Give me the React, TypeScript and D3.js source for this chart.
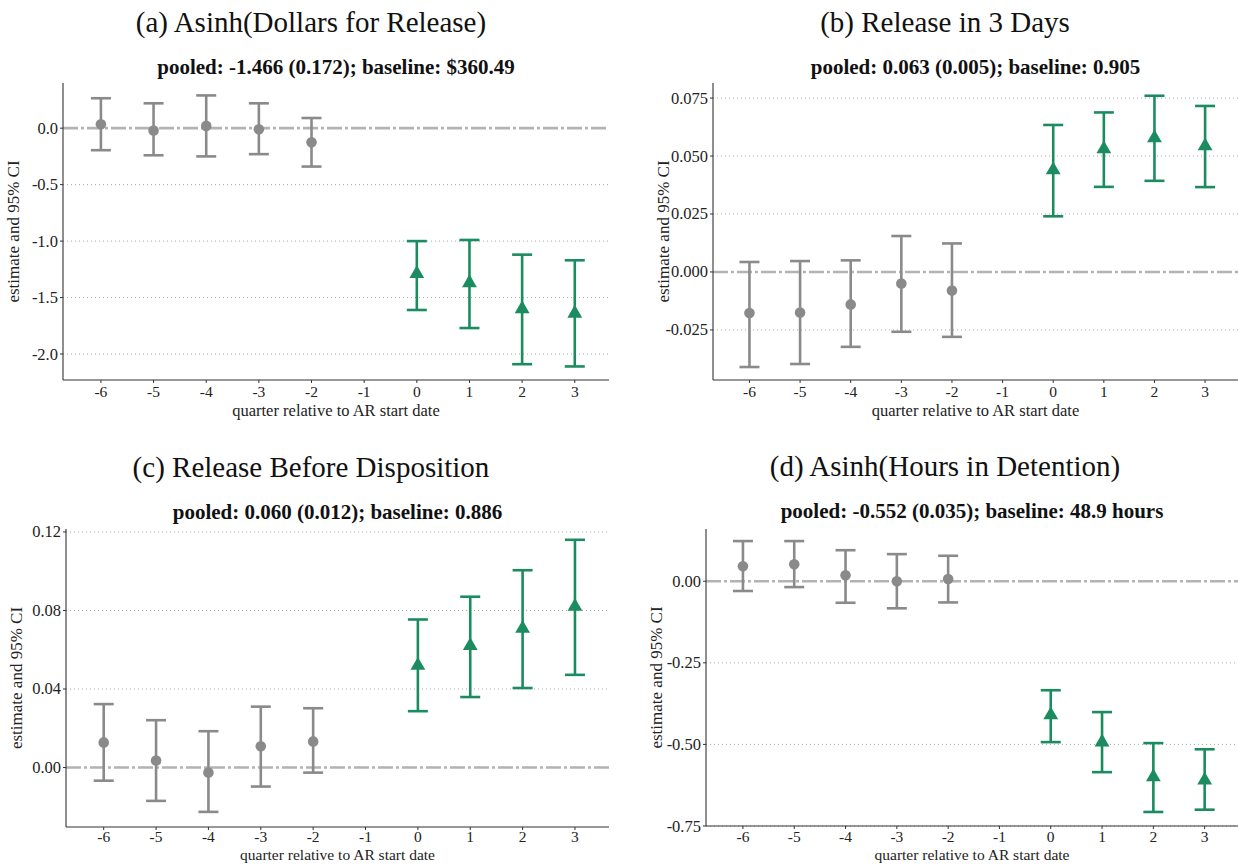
import React from "react";
import * as d3 from "d3";

// quarters relative to AR start (-1 is the omitted reference quarter)
const quarters = [-6, -5, -4, -3, -2, 0, 1, 2, 3];
const tickQuarters = [-6, -5, -4, -3, -2, -1, 0, 1, 2, 3];

// (a) asinh dollars for release
const dollarsEst = [0.035, -0.02, 0.02, -0.01, -0.125, -1.29, -1.37, -1.6, -1.64];
const dollarsLo = [-0.195, -0.24, -0.25, -0.23, -0.34, -1.61, -1.77, -2.09, -2.11];
const dollarsHi = [0.265, 0.22, 0.29, 0.22, 0.09, -1.0, -0.99, -1.12, -1.17];
const dollarsTicks = [0, -0.5, -1, -1.5, -2];

// (b) release in 3 days
const days3Est = [-0.0177, -0.0175, -0.014, -0.005, -0.008, 0.044, 0.053, 0.0578, 0.0543];
const days3Lo = [-0.041, -0.0397, -0.0323, -0.0258, -0.028, 0.024, 0.0367, 0.0393, 0.0366];
const days3Hi = [0.0043, 0.0047, 0.005, 0.0155, 0.0123, 0.0634, 0.0688, 0.076, 0.0716];
const days3Ticks = [0.075, 0.05, 0.025, 0, -0.025];

// (c) release before disposition
const dispoEst = [0.0128, 0.0036, -0.0026, 0.0108, 0.0133, 0.052, 0.062, 0.0708, 0.082];
const dispoLo = [-0.0067, -0.017, -0.0226, -0.0097, -0.0026, 0.0287, 0.0359, 0.0405, 0.0472];
const dispoHi = [0.0323, 0.0241, 0.0185, 0.031, 0.0302, 0.0754, 0.087, 0.1005, 0.116];
const dispoTicks = [0.12, 0.08, 0.04, 0];

// (d) asinh hours in detention
const hoursEst = [0.046, 0.052, 0.018, 0.0, 0.007, -0.41, -0.493, -0.6, -0.61];
const hoursLo = [-0.03, -0.018, -0.066, -0.083, -0.065, -0.493, -0.585, -0.707, -0.7];
const hoursHi = [0.123, 0.123, 0.095, 0.083, 0.078, -0.334, -0.401, -0.496, -0.515];
const hoursTicks = [0, -0.25, -0.5, -0.75];

const GRAY = "#8a8a8a";
const GREEN = "#1b8c5f";
const FONT = "Liberation Serif";

type PanelProps = {
  title: string;
  subtitle: string;
  est: number[];
  lo: number[];
  hi: number[];
  yTicks: number[];
  yDomain: [number, number];
  fmt: (v: number) => string;
  left: number;
  right: number;
  top: number;
  bottom: number;
  titleX: number;
  titleY: number;
  tickGap: number;
  xLabelGap: number;
  xLabelSize: number;
};

function Panel(p: PanelProps) {
  const x = d3.scaleLinear().domain([-6.72, 3.65]).range([p.left, p.right]);
  const y = d3.scaleLinear().domain(p.yDomain).range([p.bottom, p.top]);
  const midX = (p.left + p.right) / 2;
  const midY = (p.top + p.bottom) / 2;
  const capW = 10;
  const tri = d3.symbol().type(d3.symbolTriangle).size(95)();

  return (
    <g>
      <text x={p.titleX} y={p.titleY} textAnchor="middle" fontSize={29} fontFamily={FONT} fill="#111">
        {p.title}
      </text>
      <text x={midX} y={p.titleY + 42} textAnchor="middle" fontSize={21} fontWeight="bold" fontFamily={FONT} fill="#111">
        {p.subtitle}
      </text>

      {/* dotted grid lines */}
      {p.yTicks.filter((t) => t !== 0).map((t) => (
        <line key={"g" + t} x1={p.left} x2={p.right} y1={y(t)} y2={y(t)}
          stroke="#a8a8a8" strokeWidth={1} strokeDasharray="1,3" />
      ))}
      {/* zero reference */}
      <line x1={p.left} x2={p.right} y1={y(0)} y2={y(0)}
        stroke="#b3b3b3" strokeWidth={2.6} strokeDasharray="15,3,3,3" />

      {/* error bars */}
      {quarters.map((q, i) => {
        const c = q < 0 ? GRAY : GREEN;
        const cx = x(q);
        return (
          <g key={"e" + q} stroke={c} strokeWidth={2.6}>
            <line x1={cx} x2={cx} y1={y(p.lo[i])} y2={y(p.hi[i])} />
            <line x1={cx - capW} x2={cx + capW} y1={y(p.lo[i])} y2={y(p.lo[i])} />
            <line x1={cx - capW} x2={cx + capW} y1={y(p.hi[i])} y2={y(p.hi[i])} />
          </g>
        );
      })}
      {quarters.map((q, i) =>
        q < 0 ? (
          <circle key={"p" + q} cx={x(q)} cy={y(p.est[i])} r={5.3} fill={GRAY} />
        ) : (
          <path key={"p" + q} d={tri as string} transform={`translate(${x(q)},${y(p.est[i])})`} fill={GREEN} />
        )
      )}

      {/* axes */}
      <line x1={p.left} x2={p.left} y1={p.top} y2={p.bottom} stroke="#333" strokeWidth={1.1} />
      <line x1={p.left} x2={p.right} y1={p.bottom} y2={p.bottom} stroke="#333" strokeWidth={1.1} />
      {p.yTicks.map((t) => (
        <g key={"yt" + t}>
          <line x1={p.left - 3} x2={p.left} y1={y(t)} y2={y(t)} stroke="#333" />
          <text x={p.left - 5} y={y(t) + 5.5} textAnchor="end" fontSize={16.5} fontFamily={FONT} fill="#222">
            {p.fmt(t)}
          </text>
        </g>
      ))}
      {tickQuarters.map((q) => (
        <g key={"xt" + q}>
          <line x1={x(q)} x2={x(q)} y1={p.bottom} y2={p.bottom + 3} stroke="#333" />
          <text x={x(q)} y={p.bottom + p.tickGap} textAnchor="middle" fontSize={15.5} fontFamily={FONT} fill="#222">
            {q}
          </text>
        </g>
      ))}
      <text x={midX} y={p.bottom + p.xLabelGap} textAnchor="middle" fontSize={p.xLabelSize} fontFamily={FONT} fill="#222">
        quarter relative to AR start date
      </text>
      <text transform={`translate(${p.left - 44},${midY}) rotate(-90)`} textAnchor="middle" fontSize={17} fontFamily={FONT} fill="#222">
        estimate and 95% CI
      </text>
    </g>
  );
}

export default function App() {
  const f1 = d3.format(".1f");
  const f3 = d3.format(".3f");
  const f2 = d3.format(".2f");
  const minus = (s: string) => s.replace("−", "-");
  return (
    <svg width={1238} height={864} style={{ position: "absolute", left: 0, top: 0, background: "#fff" }}>
      <rect width={1238} height={864} fill="#fff" />
      <Panel title="(a) Asinh(Dollars for Release)" subtitle="pooled: -1.466 (0.172); baseline: $360.49"
        est={dollarsEst} lo={dollarsLo} hi={dollarsHi} yTicks={dollarsTicks} yDomain={[-2.23, 0.4]}
        fmt={(v) => minus(f1(v))} left={63} right={609} top={83} bottom={380} titleX={311} titleY={32}
        tickGap={17} xLabelGap={36} xLabelSize={16.5} />
      <Panel title="(b) Release in 3 Days" subtitle="pooled: 0.063 (0.005); baseline: 0.905"
        est={days3Est} lo={days3Lo} hi={days3Hi} yTicks={days3Ticks} yDomain={[-0.0466, 0.0815]}
        fmt={(v) => minus(f3(v))} left={713} right={1238} top={83} bottom={380} titleX={945} titleY={32}
        tickGap={17} xLabelGap={36} xLabelSize={16.5} />
      <Panel title="(c) Release Before Disposition" subtitle="pooled: 0.060 (0.012); baseline: 0.886"
        est={dispoEst} lo={dispoLo} hi={dispoHi} yTicks={dispoTicks} yDomain={[-0.0303, 0.1215]}
        fmt={(v) => minus(f2(v))} left={66} right={609} top={529} bottom={827} titleX={311} titleY={477}
        tickGap={15} xLabelGap={33} xLabelSize={15.5} />
      <Panel title="(d) Asinh(Hours in Detention)" subtitle="pooled: -0.552 (0.035); baseline: 48.9 hours"
        est={hoursEst} lo={hoursLo} hi={hoursHi} yTicks={hoursTicks} yDomain={[-0.75, 0.16]}
        fmt={(v) => minus(f2(v))} left={706} right={1238} top={529} bottom={826} titleX={945} titleY={476}
        tickGap={16} xLabelGap={34} xLabelSize={15.5} />
    </svg>
  );
}
